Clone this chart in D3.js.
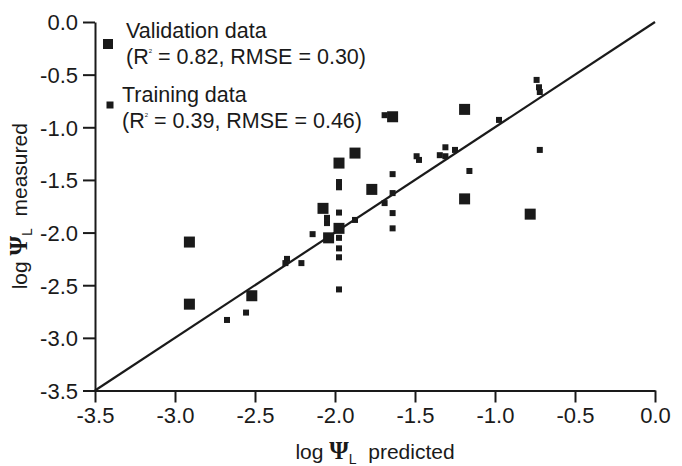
<!DOCTYPE html>
<html>
<head>
<meta charset="utf-8">
<script src="https://cdn.jsdelivr.net/npm/d3@7"></script>
<style>
  html, body { margin: 0; padding: 0; background: #fff; }
  svg { display: block; }
  text { font-family: "Liberation Sans", Arial, sans-serif; fill: #1a1a1a; }
</style>
</head>
<body>
<svg id="chart" width="682" height="466"></svg>
<script>
// ---- data ----
const xTicks = [-3.5, -3.0, -2.5, -2.0, -1.5, -1.0, -0.5, 0.0];
const yTicks = [0.0, -0.5, -1.0, -1.5, -2.0, -2.5, -3.0, -3.5];

// Validation data: predicted (x), measured (y)
const validationX = [-2.91, -2.91, -2.52, -1.975, -1.875, -1.77, -2.075, -1.975, -2.04, -1.19, -1.19, -0.78, -1.64];
const validationY = [-2.09, -2.68, -2.60, -1.34, -1.245, -1.59, -1.77, -1.96, -2.05, -1.68, -0.83, -1.825, -0.90];

// Training data: predicted (x), measured (y)
const trainingX = [-2.675, -2.556, -2.30, -2.31, -2.21, -2.14, -2.05, -2.05, -1.975, -1.975, -1.975, -1.975, -1.975, -1.975, -1.975,
                   -1.875, -1.69, -1.64, -1.64, -1.69, -1.64, -1.64, -1.49, -1.475, -1.345, -1.31, -1.31, -1.25, -1.16, -0.975,
                   -0.74, -0.725, -0.72, -0.72];
const trainingY = [-2.83, -2.76, -2.25, -2.29, -2.29, -2.015, -1.86, -1.91, -1.52, -1.57, -1.81, -2.05, -2.15, -2.235, -2.54,
                   -1.88, -0.885, -1.445, -1.625, -1.72, -1.815, -1.96, -1.275, -1.31, -1.265, -1.19, -1.275, -1.215, -1.415, -0.93,
                   -0.55, -0.62, -0.665, -1.215];

const oneToOne = [[-3.5, -3.5], [0.0, 0.0]];

const legendItems = [
  { name: "Validation data", r2: "0.82", rmse: "0.30", size: "big" },
  { name: "Training data",   r2: "0.39", rmse: "0.46", size: "small" }
];

// ---- layout ----
const W = 682, H = 466;
const margin = { top: 22, right: 27, bottom: 75.5, left: 95 };
const iw = W - margin.left - margin.right;
const ih = H - margin.top - margin.bottom;
const ink = "#1a1a1a";
const tickFont = 22;
const legFont = 21.5;
const titleFont = 21;
const bigSize = 11, smallSize = 6;

const svg = d3.select("#chart");
const g = svg.append("g").attr("transform", `translate(${margin.left},${margin.top})`);

const x = d3.scaleLinear().domain([-3.5, 0]).range([0, iw]);
const y = d3.scaleLinear().domain([-3.5, 0]).range([ih, 0]);

// axes
const fmt = d => d3.format(".1f")(d).replace("−", "-");
const xAxis = d3.axisBottom(x).tickValues(xTicks).tickFormat(fmt).tickSize(12).tickPadding(5).tickSizeOuter(0);
const yAxis = d3.axisLeft(y).tickValues(yTicks).tickFormat(fmt).tickSize(12).tickPadding(5).tickSizeOuter(0);

const gx = g.append("g").attr("transform", `translate(0,${ih})`).call(xAxis);
const gy = g.append("g").call(yAxis);
[gx, gy].forEach(a => {
  a.select(".domain").attr("stroke", ink).attr("stroke-width", 2);
  a.selectAll(".tick line").attr("stroke", ink).attr("stroke-width", 2);
  a.selectAll(".tick text").attr("fill", ink).style("font-size", tickFont + "px")
    .style("font-family", '"Liberation Sans", Arial, sans-serif');
});
gy.selectAll(".tick text").attr("dy", "0.36em");

// 1:1 line
g.append("line")
  .attr("x1", x(oneToOne[0][0])).attr("y1", y(oneToOne[0][1]))
  .attr("x2", x(oneToOne[1][0])).attr("y2", y(oneToOne[1][1]))
  .attr("stroke", ink).attr("stroke-width", 2.2);

// points
const trainPts = trainingX.map((v, i) => ({ x: v, y: trainingY[i] }));
const valPts = validationX.map((v, i) => ({ x: v, y: validationY[i] }));

g.selectAll("rect.train").data(trainPts).join("rect").attr("class", "train")
  .attr("x", d => x(d.x) - smallSize / 2).attr("y", d => y(d.y) - smallSize / 2)
  .attr("width", smallSize).attr("height", smallSize).attr("fill", ink);

g.selectAll("rect.val").data(valPts).join("rect").attr("class", "val")
  .attr("x", d => x(d.x) - bigSize / 2).attr("y", d => y(d.y) - bigSize / 2)
  .attr("width", bigSize).attr("height", bigSize).attr("fill", ink);

// legend
const leg = svg.append("g");
const legRows = [
  { sq: [108, 44], sqSize: 10, textX: 126, y1: 38, y2: 64 },
  { sq: [110, 105], sqSize: 7, textX: 122, y1: 102, y2: 128 }
];
legendItems.forEach((it, i) => {
  const r = legRows[i];
  leg.append("rect").attr("x", r.sq[0] - r.sqSize / 2).attr("y", r.sq[1] - r.sqSize / 2)
    .attr("width", r.sqSize).attr("height", r.sqSize).attr("fill", ink);
  leg.append("text").attr("x", r.textX).attr("y", r.y1).style("font-size", legFont + "px").text(it.name);
  const t = leg.append("text").attr("x", r.textX).attr("y", r.y2).style("font-size", legFont + "px");
  t.append("tspan").text("(R");
  t.append("tspan").attr("dy", -11).style("font-size", "6px").text("2");
  t.append("tspan").attr("dy", 11).text(` = ${it.r2}, RMSE = ${it.rmse})`);
});

// axis titles
function title(sel, label) {
  sel.append("tspan").text("log ");
  sel.append("tspan").style("font-family", '"Liberation Serif", "Times New Roman", serif')
    .style("font-weight", "bold").style("font-size", "25px").text("Ψ");
  sel.append("tspan").attr("dy", 5).style("font-size", "14px").text("L");
  sel.append("tspan").attr("dy", -5).text("  " + label);
}
const xt = svg.append("text").attr("x", margin.left + iw / 2).attr("y", 459)
  .attr("text-anchor", "middle").style("font-size", titleFont + "px").attr("xml:space", "preserve");
title(xt, "predicted");

const yt = svg.append("text")
  .attr("transform", `translate(27,${margin.top + ih / 2}) rotate(-90)`)
  .attr("text-anchor", "middle").style("font-size", titleFont + "px").attr("xml:space", "preserve");
title(yt, "measured");
</script>
</body>
</html>
